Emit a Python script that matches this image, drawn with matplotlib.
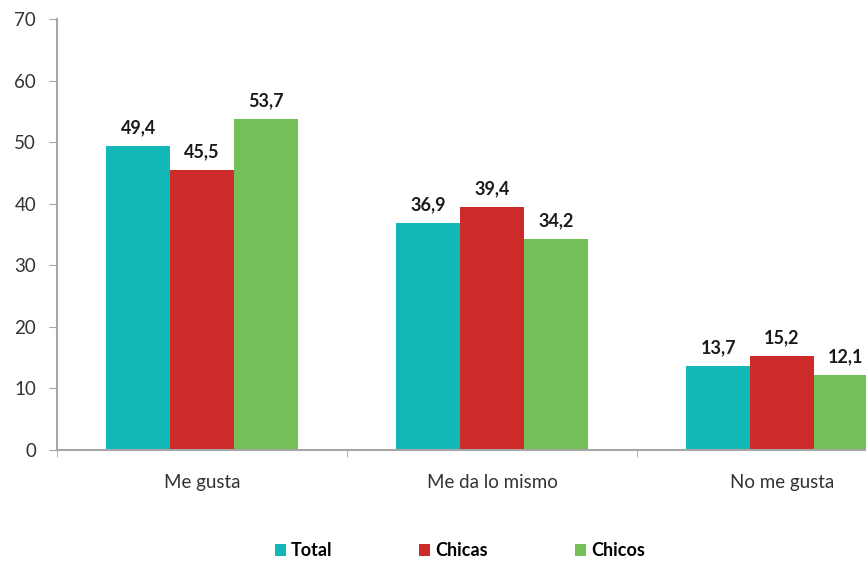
import matplotlib.pyplot as plt
import numpy as np

categorias = ['Me gusta', 'Me da lo mismo', 'No me gusta']
series = ['Total', 'Chicas', 'Chicos']
total = [49.4, 36.9, 13.7]
chicas = [45.5, 39.4, 15.2]
chicos = [53.7, 34.2, 12.1]
colores = ['#12B7B7', '#CD2A2A', '#74BF58']

plt.rcParams['font.family'] = ['Lato', 'DejaVu Sans']

fig = plt.figure(figsize=(8.66, 5.63), dpi=100)
ax = fig.add_axes([57/866, 113/563, 870/866, 431/563])

x = np.arange(len(categorias))
w = 0.22
for i, (vals, col, lab) in enumerate(zip([total, chicas, chicos], colores, series)):
    bars = ax.bar(x + (i - 1) * w, vals, w, color=col, label=lab)
    for b, v in zip(bars, vals):
        ax.text(b.get_x() + b.get_width() / 2, v + 1.6, ('%.1f' % v).replace('.', ','),
                ha='center', va='bottom', fontsize=13, fontweight='bold', color='#1a1a1a')

ax.set_xlim(-0.5, 2.5)
ax.set_ylim(0, 70)
ax.set_yticks(range(0, 71, 10))
ax.set_xticks(x)
ax.set_xticklabels(categorias, fontsize=13.5, color='#333333')
ax.set_xticks([-0.5, 0.5, 1.5, 2.5], minor=True)
ax.tick_params(axis='x', which='major', length=0, pad=17)
ax.tick_params(axis='x', which='minor', length=5, color='#A6A6A6')
ax.tick_params(axis='y', length=6, color='#A6A6A6', labelsize=13.5, labelcolor='#333333', pad=9)
for s in ['top', 'right']:
    ax.spines[s].set_visible(False)
for s in ['left', 'bottom']:
    ax.spines[s].set_color('#A6A6A6')
    ax.spines[s].set_linewidth(1.5)

handles, labels = ax.get_legend_handles_labels()
leg = fig.legend(handles, labels, loc='center', bbox_to_anchor=(460/866, 1 - 551/563), ncol=3,
                 frameon=False, handlelength=0.6, handleheight=0.6, columnspacing=4.8,
                 handletextpad=0.3, prop={'weight': 'bold', 'size': 13})

fig.savefig('out.png', dpi=100)
